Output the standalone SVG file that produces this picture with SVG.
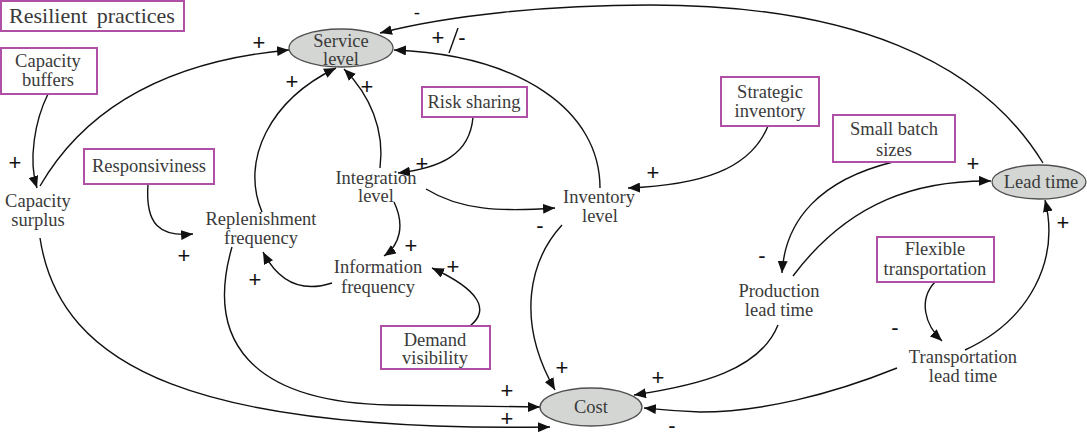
<svg xmlns="http://www.w3.org/2000/svg" width="1087" height="440" viewBox="0 0 1087 440">
<style>
text{font-family:"Liberation Serif","DejaVu Serif",serif;font-size:18.5px;fill:#3a3a3a;text-anchor:middle}
.box{fill:#fff;stroke:#b04fa6;stroke-width:2}
.ell{fill:#d3d6d3;stroke:#505050;stroke-width:1.3}
.c{fill:none;stroke:#111;stroke-width:1.4}
.a{marker-end:url(#ah)}
text.s{font-family:"Liberation Sans",Arial,sans-serif;font-size:22px;fill:#111}
</style>
<defs>
<marker id="ah" markerWidth="13" markerHeight="10" refX="12" refY="5" orient="auto" markerUnits="userSpaceOnUse"><path d="M0,0 L12,5 L0,10 z" fill="#111"/></marker>
</defs>
<g id="connectors">
<path class="c a" d="M48,94 C 35,120 28,160 37,188"/>
<path class="c a" d="M40,186 C 90,100 180,60 289,50"/>
<path class="c a" d="M40,238 C 60,370 200,432 550,427"/>
<path class="c a" d="M262,212 C 240,160 270,100 336,68"/>
<path class="c a" d="M380,168 C 385,130 370,95 344,69"/>
<path class="c a" d="M600,188 C 600,110 520,55 394,50"/>
<line class="c" x1="449" y1="53" x2="458" y2="28"/>
<path class="c a" d="M1043,163 C 980,60 850,5 650,5 C 550,5 450,15 380,33"/>
<path class="c a" d="M473,117 C 470,155 440,168 398,173"/>
<path class="c a" d="M768,126 C 750,170 700,185 628,188"/>
<path class="c a" d="M426,189 C 460,210 500,212 555,208"/>
<path class="c a" d="M394,202 C 405,225 400,245 384,256"/>
<path class="c a" d="M332,283 C 295,295 275,275 263,252"/>
<path class="c a" d="M470,326 C 490,310 480,290 432,268"/>
<path class="c a" d="M148,184 C 145,225 160,237 193,234"/>
<path class="c a" d="M232,247 C 205,340 250,402 390,405 C 460,406 510,407 540,407"/>
<path class="c a" d="M562,225 C 530,260 515,320 555,390"/>
<path class="c a" d="M778,325 C 760,370 700,385 634,395"/>
<path class="c a" d="M897,368 C 830,395 760,412 700,412 C 670,411 655,409 644,408"/>
<path class="c a" d="M793,276 C 850,200 920,180 991,181"/>
<path class="c a" d="M893,162 C 820,180 785,220 782,273"/>
<path class="c a" d="M935,282 C 918,300 925,325 942,341"/>
<path class="c a" d="M965,350 C 1030,320 1060,260 1045,200"/>
</g>
<g id="polarities">
<text class="s" x="15" y="170">+</text>
<text class="s" x="259" y="50">+</text>
<text class="s" x="292" y="89">+</text>
<text class="s" x="367" y="94">+</text>
<text class="s" x="438" y="45">+</text>
<text class="s" x="462" y="45">-</text>
<text class="s" x="417" y="19" style="font-size:19px">-</text>
<text class="s" x="422" y="171">+</text>
<text class="s" x="653" y="180">+</text>
<text class="s" x="411" y="253">+</text>
<text class="s" x="255" y="287">+</text>
<text class="s" x="453" y="274">+</text>
<text class="s" x="184" y="263">+</text>
<text class="s" x="507" y="398">+</text>
<text class="s" x="507" y="426">+</text>
<text class="s" x="540" y="233">-</text>
<text class="s" x="562" y="375">+</text>
<text class="s" x="658" y="385">+</text>
<text class="s" x="672" y="433">-</text>
<text class="s" x="973" y="171">+</text>
<text class="s" x="762" y="263">-</text>
<text class="s" x="895" y="335">-</text>
<text class="s" x="1063" y="230">+</text>
</g>
<g id="resilient-practices"><rect class="box" x="1" y="1" width="183" height="30"/><text x="92" y="23" style="font-size:22px;word-spacing:4px">Resilient practices</text></g>
<g id="capacity-buffers"><rect class="box" x="1" y="48" width="96" height="46"/><text x="48" y="67">Capacity</text><text x="48" y="86">buffers</text></g>
<g id="responsiviness"><rect class="box" x="84" y="149" width="130" height="35"/><text x="149" y="172">Responsiviness</text></g>
<g id="risk-sharing"><rect class="box" x="422" y="87" width="105" height="30"/><text x="474" y="108">Risk sharing</text></g>
<g id="strategic-inventory"><rect class="box" x="721" y="77" width="98" height="49"/><text x="770" y="98">Strategic</text><text x="770" y="117">inventory</text></g>
<g id="small-batch-sizes"><rect class="box" x="833" y="115" width="122" height="47"/><text x="894" y="135">Small batch</text><text x="894" y="156">sizes</text></g>
<g id="flexible-transportation"><rect class="box" x="877" y="237" width="117" height="45"/><text x="935" y="255">Flexible</text><text x="935" y="275">transportation</text></g>
<g id="demand-visibility"><rect class="box" x="381" y="326" width="109" height="43"/><text x="435" y="346">Demand</text><text x="435" y="364">visibility</text></g>
<g id="service-level"><ellipse class="ell" cx="341" cy="48" rx="52" ry="19"/><text x="341" y="47">Service</text><text x="341" y="65">level</text></g>
<g id="lead-time"><ellipse class="ell" cx="1039" cy="182" rx="47" ry="17"/><text x="1041" y="188">Lead time</text></g>
<g id="cost"><ellipse class="ell" cx="591" cy="407" rx="51" ry="19"/><text x="591" y="413">Cost</text></g>
<g id="capacity-surplus"><text x="38" y="207">Capacity</text><text x="38" y="226">surplus</text></g>
<g id="replenishment-frequency"><text x="261" y="225">Replenishment</text><text x="261" y="244">frequency</text></g>
<g id="integration-level"><text x="376" y="184">Integration</text><text x="376" y="202">level</text></g>
<g id="inventory-level"><text x="599" y="203">Inventory</text><text x="600" y="222">level</text></g>
<g id="information-frequency"><text x="378" y="273">Information</text><text x="378" y="293">frequency</text></g>
<g id="production-lead-time"><text x="779" y="297">Production</text><text x="779" y="316">lead time</text></g>
<g id="transportation-lead-time"><text x="963" y="363">Transportation</text><text x="963" y="382">lead time</text></g>
</svg>
